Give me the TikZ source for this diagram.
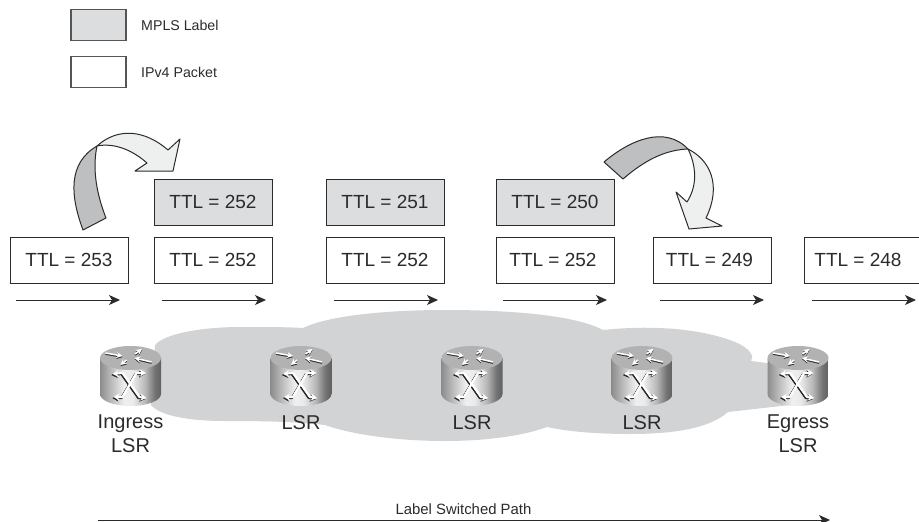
\documentclass[tikz,border=0pt]{standalone}
\usepackage{fontspec}
\setmainfont{Liberation Sans}
\usetikzlibrary{arrows.meta}
\definecolor{ink}{HTML}{2B2B2B}
\definecolor{labelgray}{HTML}{DCDDDE}
\definecolor{cloudgray}{HTML}{D1D3D4}
\definecolor{foldgray}{HTML}{BDBFC1}
\definecolor{foldlight}{HTML}{EEF0EF}
\pgfdeclarehorizontalshading{routerbody}{100bp}{
  color(0bp)=(black!45); color(25bp)=(black!45); color(35bp)=(black!25);
  color(45bp)=(black!6); color(52bp)=(black!8); color(62bp)=(black!28);
  color(70bp)=(black!55); color(75bp)=(black!62); color(100bp)=(black!62)}
\tikzset{
  pkt/.style={draw=ink,line width=1pt,fill=white,minimum width=118pt,minimum height=46pt,inner sep=0pt,text=ink,font=\fontsize{19}{22}\selectfont},
  lbl/.style={pkt,fill=labelgray},
  swatch/.style={draw=ink!80,line width=1.2pt,minimum width=55pt,minimum height=31pt,inner sep=0pt},
  legendtext/.style={anchor=west,inner sep=0pt,text=ink,font=\fontsize{14.2}{16}\selectfont},
  routertext/.style={align=center,inner sep=0pt,text=ink,font=\fontsize{20}{24}\selectfont},
  flow/.style={draw=ink,line width=1pt,-{Stealth[length=11pt,width=10pt,inset=3pt]}},
  foldedge/.style={draw=ink,line width=1pt,line join=round},
  rtop/.style={line width=1.5pt,-{Stealth[length=6pt,width=6pt]}},
  rfront/.style={line width=2pt,line join=round,-{Stealth[length=6pt,width=7pt]}},
  router/.pic={
    \path[shading=routerbody] (-30.5,-18) -- (-30.5,18)
      arc[start angle=180,end angle=360,x radius=30.5pt,y radius=12pt] -- (30.5,-18) -- cycle;
    \fill[black!30] (0,-18) ellipse[x radius=30.5pt,y radius=12pt];
    \foreach \d/\c in {1.1/black!80,0/white}{
      \begin{scope}[shift={(0,\d)}]
        \draw[\c,rtop] (-25,-23) -- (-8,-20);
        \draw[\c,rtop] (4.5,-22) -- (11.5,-27);
        \draw[\c,rtop] (21,-14) -- (4,-18);
        \draw[\c,rtop] (-4,-16) -- (-10,-11);
      \end{scope}
    }
    \foreach \d/\c in {1.1/black!85,0/white}{
      \begin{scope}[shift={(-\d,\d)}]
        \draw[\c,rfront] (9,21) -- (-8,-3) -- (-18,-2);
        \draw[\c,rfront] (-8,21) -- (6,-3) -- (15.5,-3);
        \draw[\c,rfront] (-8,-3) -- (9,21) -- (16,22);
        \draw[\c,rfront] (6,-3) -- (-8,21) -- (-17,21);
      \end{scope}
    }
  }
}
\begin{document}
\begin{tikzpicture}[x=1pt,y=-1pt]
\useasboundingbox (0,0) rectangle (919,522);
% cloud
\fill[cloudgray] (155,345) .. controls (165,333) and (205,327) .. (240,327)
  .. controls (265,327) and (288,327) .. (303,328)
  .. controls (330,315) and (390,310) .. (445,310)
  .. controls (510,310) and (575,315) .. (603,330)
  .. controls (650,325) and (700,328) .. (735,342)
  .. controls (750,348) and (755,357) .. (751,361)
  -- (790,366) -- (790,405) -- (728,412)
  .. controls (710,428) and (675,434) .. (630,434)
  .. controls (600,434) and (570,432) .. (547,427)
  .. controls (520,437) and (480,441) .. (445,441)
  .. controls (395,441) and (350,434) .. (325,425)
  .. controls (290,421) and (250,421) .. (225,421)
  .. controls (190,421) and (160,416) .. (151,405) -- cycle;
% legend
\node[swatch,fill=labelgray] (s1) at (98.5,25) {};
\node[swatch,fill=white] (s2) at (98.5,72) {};
\node[legendtext] (t1) at (141,25) {MPLS Label};
\node[legendtext] (t2) at (141,72) {IPv4 Packet};
% packets
\node[pkt] (p1) at (69,260) {TTL = 253};
\node[pkt] (p2) at (213,260) {TTL = 252};
\node[pkt] (p3) at (385,260) {TTL = 252};
\node[pkt] (p4) at (555,260) {\kern-4pt TTL = 252};
\node[pkt] (p5) at (712,260) {\kern-5pt TTL = 249};
\draw[draw=ink,line width=1pt] (919,237) -- (804,237) -- (804,283) -- (919,283);
\node[text=ink,inner sep=0pt,font=\fontsize{19}{22}\selectfont] (p6) at (858,260) {TTL = 248};
\node[lbl] (l2) at (213,202) {TTL = 252};
\node[lbl] (l3) at (385,202) {TTL = 251};
\node[lbl] (l4) at (555,202) {TTL = 250};
% short arrows
\foreach \n/\a/\b in {1/16/120,2/162/266,3/334/438,4/503/607,5/660/764,6/812/916}{
  \coordinate (f\n a) at (\a,300);
  \coordinate (f\n b) at (\b,300);
  \draw[flow] (f\n a) -- (f\n b);
}
% fold arrows
\filldraw[foldedge,fill=foldgray] (97,146) .. controls (68,163) and (70,195) .. (83,230) -- (106,218)
  .. controls (97,195) and (92,170) .. (97,146) -- cycle;
\filldraw[foldedge,fill=foldlight] (97,146) .. controls (118,127) and (145,130) .. (168,150)
  -- (180,139) -- (173,171) -- (135,171) -- (147,163)
  .. controls (130,148) and (112,143) .. (97,146) -- cycle;
\filldraw[foldedge,fill=foldgray] (688,149) .. controls (665,125) and (630,140) .. (604,162) -- (623,179)
  .. controls (645,160) and (665,150) .. (688,149) -- cycle;
\filldraw[foldedge,fill=foldlight] (688,149) .. controls (710,160) and (722,185) .. (706,218)
  -- (722,226) -- (689,229) -- (676,192) -- (687,202)
  .. controls (698,185) and (696,165) .. (688,149) -- cycle;
% routers
\pic (r1) at (130.5,376) {router};
\pic (r2) at (301,376) {router};
\pic (r3) at (472,376) {router};
\pic (r4) at (642,376) {router};
\pic (r5) at (798,376) {router};
\node[routertext,anchor=north] (n1) at (130.5,415) {Ingress\\LSR};
\node[routertext,anchor=north] (n2) at (301,415) {LSR};
\node[routertext,anchor=north] (n3) at (472,415) {LSR};
\node[routertext,anchor=north] (n4) at (642,415) {LSR};
\node[routertext,anchor=north] (n5) at (798,415) {Egress\\LSR};
% path
\coordinate (pa) at (98,520);
\coordinate (pb) at (830,520);
\draw[flow] (pa) -- (pb);
\node[inner sep=0pt,text=ink,font=\fontsize{14.9}{17}\selectfont] (pl) at (463.5,509) {Label Switched Path};
\end{tikzpicture}
\end{document}
